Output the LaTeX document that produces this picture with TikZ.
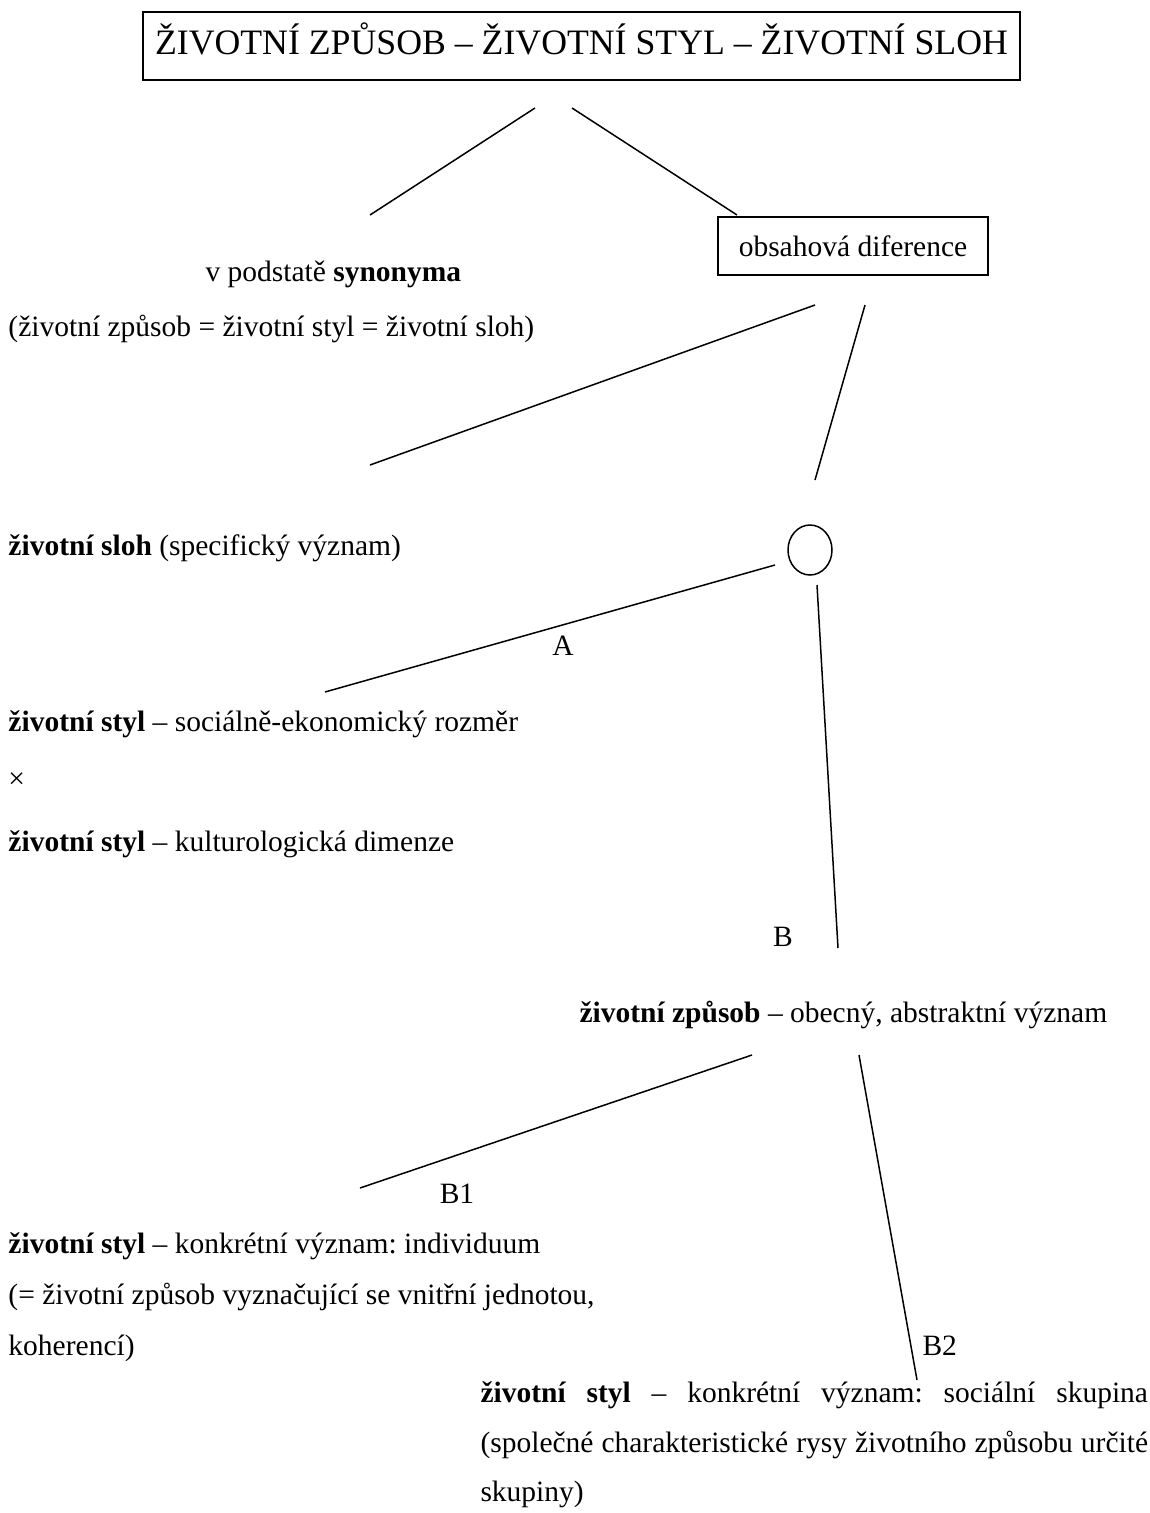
\documentclass[tikz,border=0pt]{standalone}
\usepackage{fontspec}
\setmainfont{Liberation Serif}
\usetikzlibrary{shapes.geometric}
\frenchspacing
\begin{document}
\begin{tikzpicture}[x=0.4pt,y=-0.4pt,
  txt/.style={inner sep=0pt,anchor=base west,font=\fontsize{11.8}{14}\selectfont},
  lbl/.style={inner sep=0pt,anchor=base,font=\fontsize{11.8}{14}\selectfont},
  frame/.style={draw,line width=0.6pt,inner sep=0pt,anchor=base},
  conn/.style={line width=0.6pt}]
\useasboundingbox (0,0) rectangle (1150,1513);
% title
\node[frame,minimum width=350.8pt,text height=16.8pt,text depth=10.4pt,
  font=\fontsize{14.3}{16}\selectfont] (title) at (581.5,54)
  {ŽIVOTNÍ ZPŮSOB – ŽIVOTNÍ STYL – ŽIVOTNÍ SLOH};
\node[frame,minimum width=108pt,text height=15.6pt,text depth=7.6pt,
  font=\fontsize{11.8}{14}\selectfont] (dif) at (853,256) {obsahová diference};
\node[draw,ellipse,line width=0.6pt,minimum width=17.6pt,minimum height=20pt,inner sep=0pt] (circ) at (810,550) {};
% texts
\node[txt] (syn) at (205,281) {v podstatě \textbf{synonyma}};
\node[txt] (syn2) at (8,336) {(životní způsob = životní styl = životní sloh)};
\node[txt] (sloh) at (8,555) {\textbf{životní sloh} (specifický význam)};
\node[lbl] (lA) at (563,655) {A};
\node[txt] (soc) at (8,731) {\textbf{životní styl} – sociálně-ekonomický rozměr};
\node[txt] (times) at (8,788) {×};
\node[txt] (kult) at (8,851) {\textbf{životní styl} – kulturologická dimenze};
\node[lbl] (lB) at (783,946) {B};
\node[txt] (zpus) at (579,1022) {\textbf{životní způsob} – obecný, abstraktní význam};
\node[lbl] (lB1) at (457,1203) {B1};
\node[txt] (ind1) at (8,1253) {\textbf{životní styl} – konkrétní význam: individuum};
\node[txt] (ind2) at (8,1304) {(= životní způsob vyznačující se vnitřní jednotou,};
\node[txt] (ind3) at (8,1355) {koherencí)};
\node[txt] (lB2) at (922,1355) {B2};
\node[txt] (sk1) at (480,1402) {\makebox[267pt][s]{\textbf{životní styl} – konkrétní význam: sociální skupina}};
\node[txt] (sk2) at (480,1452) {\makebox[267pt][s]{(společné charakteristické rysy životního způsobu určité}};
\node[txt] (sk3) at (480,1501) {skupiny)};
% connector ends
\coordinate (c1a) at (535,108); \coordinate (c1b) at (370,215);
\coordinate (c2a) at (572,108); \coordinate (c2b) at (737,215);
\coordinate (c3a) at (815,305); \coordinate (c3b) at (370,465);
\coordinate (c4a) at (865,305); \coordinate (c4b) at (815,480);
\coordinate (cAa) at (775,565); \coordinate (cAb) at (325,692);
\coordinate (cBa) at (817,585); \coordinate (cBb) at (838,948);
\coordinate (d1a) at (752,1055); \coordinate (d1b) at (360,1188);
\coordinate (d2a) at (859,1055); \coordinate (d2b) at (917,1380);
\draw[conn] (c1a) -- (c1b);
\draw[conn] (c2a) -- (c2b);
\draw[conn] (c3a) -- (c3b);
\draw[conn] (c4a) -- (c4b);
\draw[conn] (cAa) -- (cAb);
\draw[conn] (cBa) -- (cBb);
\draw[conn] (d1a) -- (d1b);
\draw[conn] (d2a) -- (d2b);
\end{tikzpicture}
\end{document}
